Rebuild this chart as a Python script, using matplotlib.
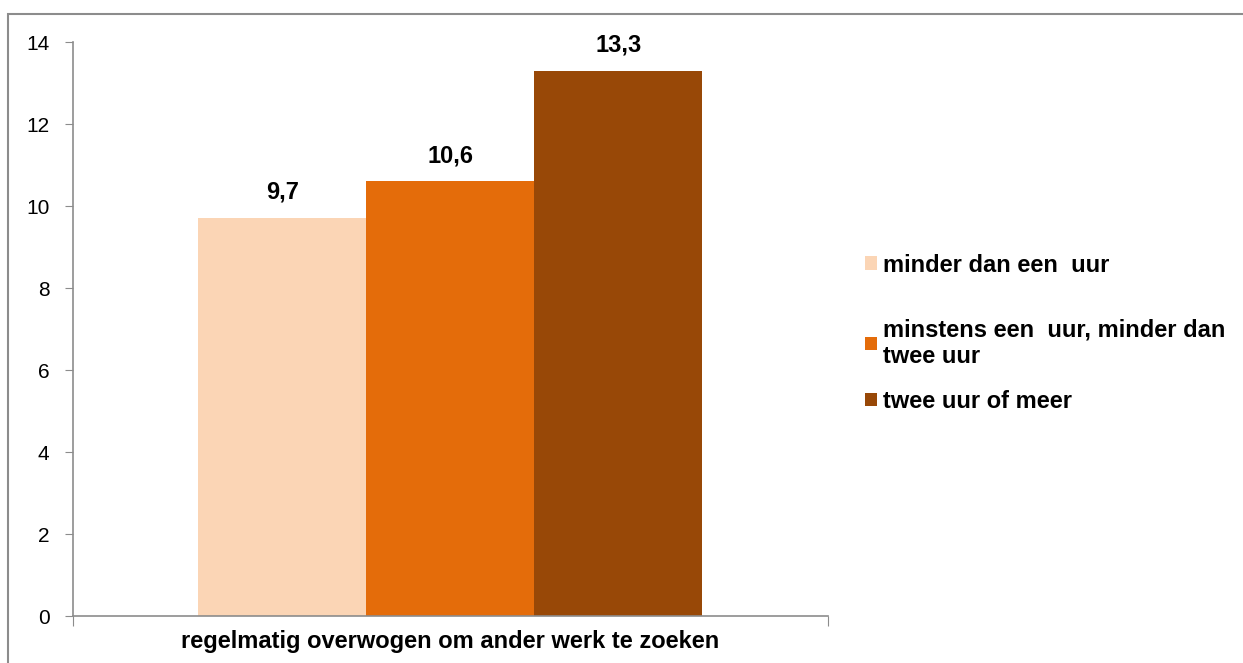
import matplotlib.pyplot as plt
from matplotlib.patches import Rectangle

# gegevens
category = 'regelmatig overwogen om ander werk te zoeken'
series = ['minder dan een  uur', 'minstens een  uur, minder dan\ntwee uur', 'twee uur of meer']
values = [9.7, 10.6, 13.3]
value_labels = ['9,7', '10,6', '13,3']
colors = ['#FBD5B5', '#E46C0A', '#984807']
yticks = [0, 2, 4, 6, 8, 10, 12, 14]

plt.rcParams['font.family'] = ['Liberation Sans', 'DejaVu Sans']

fig = plt.figure(figsize=(12.43, 6.63), dpi=100)
ax = fig.add_axes([73 / 1243, 1 - 616 / 663, 755 / 1243, 574 / 663])

# buitenrand
fig.patches.append(Rectangle((8 / 1243, -0.1), 1.2, 1 - 14 / 663 + 0.1,
                             transform=fig.transFigure, fill=False,
                             edgecolor='#8c8c8c', linewidth=1.5))

w = 168 / 755
offsets = [-w, 0, w]
bars = []
for off, v, lab, c, name in zip(offsets, values, value_labels, colors, series):
    b = ax.bar(off, v, width=w, color=c, label=name)
    bars.append(b)
    ax.text(off, v + 0.35, lab, ha='center', va='bottom', fontsize=17, fontweight='bold')

ax.set_xlim(-0.5, 0.5)
ax.set_ylim(0, 14)
ax.set_yticks(yticks)
ax.set_yticklabels([str(t) for t in yticks], fontsize=15)
ax.set_xticks([-0.5, 0.5])
ax.set_xticklabels(['', ''])
ax.tick_params(axis='y', length=6, color='#8c8c8c', pad=11)
ax.tick_params(axis='x', length=7, color='#8c8c8c')
ax.text(0.5, -0.025, category, transform=ax.transAxes, ha='center', va='top',
        fontsize=17, fontweight='bold')

for s in ['top', 'right']:
    ax.spines[s].set_visible(False)
for s in ['left', 'bottom']:
    ax.spines[s].set_color('#8c8c8c')
    ax.spines[s].set_linewidth(1.2)

# legenda in twee delen om de afstanden te volgen
legprops = dict(frameon=False, prop={'size': 17, 'weight': 'bold'}, handlelength=0.5,
                handleheight=0.5, handletextpad=0.25, borderpad=0, borderaxespad=0)
leg1 = ax.legend([bars[0]], [series[0]], loc='center left',
                 bbox_to_anchor=(865 / 1243, 1 - 265 / 663),
                 bbox_transform=fig.transFigure, **legprops)
ax.add_artist(leg1)
leg2 = ax.legend([bars[1], bars[2]], series[1:], loc='upper left',
                 bbox_to_anchor=(865 / 1243, 1 - 318 / 663),
                 bbox_transform=fig.transFigure, labelspacing=0.95, **legprops)
for t in leg2.get_texts():
    t.set_linespacing(1.2)

fig.savefig('out.png', dpi=100)
